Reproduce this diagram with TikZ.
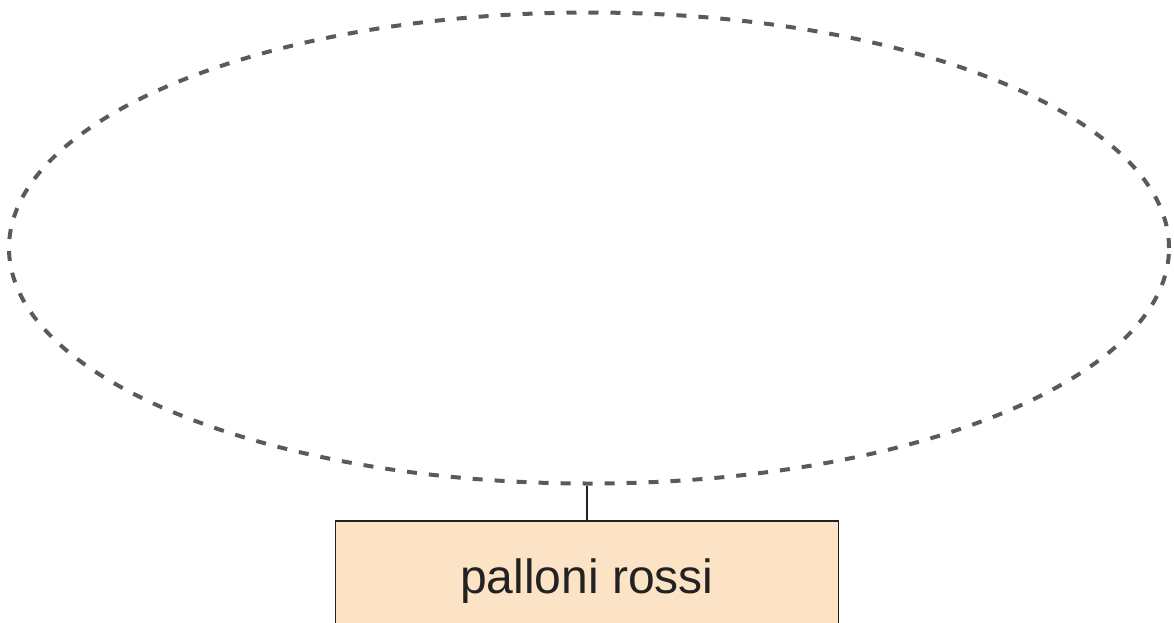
\documentclass[tikz,border=0pt]{standalone}
\usepackage{fontspec}
\setmainfont{Liberation Sans}
\usetikzlibrary{shapes.geometric}
\definecolor{ringgray}{HTML}{5A5A5A}
\definecolor{boxpeach}{HTML}{FDE3C6}
\definecolor{boxline}{HTML}{222222}
\begin{document}
\begin{tikzpicture}[x=0.5pt, y=-0.5pt]
        \tikzset{group/.style={ellipse, draw=ringgray, line width=2pt, dash pattern=on 5pt off 6pt, inner sep=0pt, minimum width=580pt, minimum height=235.5pt}}
        \tikzset{setbox/.style={draw=boxline, line width=0.9pt, fill=boxpeach, minimum width=251.5pt, inner xsep=0pt, inner ysep=0pt, text height=36.5pt, text depth=53.5pt, font=\fontsize{24pt}{28pt}\selectfont, text=boxline}}
        \useasboundingbox (0,0) rectangle (1174,622);
        \clip (0,0) rectangle (1174,622);
        \node[group] (ring) at (589,248) {};
        \node[setbox, anchor=north] (red) at (587,520) {palloni rossi};
        \draw[boxline, line width=0.7pt] (ring.south -| red.north) -- (red.north);
    \end{tikzpicture}
\end{document}
